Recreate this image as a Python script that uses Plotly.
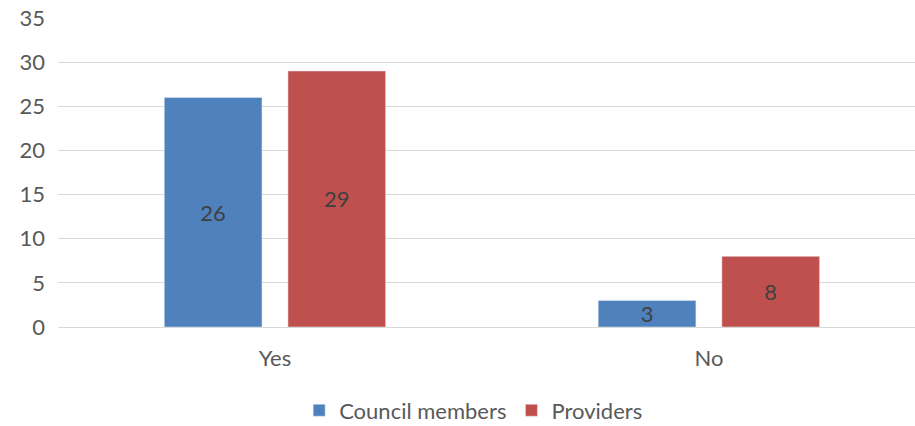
import plotly.graph_objects as go

categories = ["Yes", "No"]
council_members = [26, 3]
providers = [29, 8]
series_names = ["Council members", "Providers"]

font_family = "Lato, 'Open Sans', sans-serif"
fs = 22

fig = go.Figure()
fig.add_trace(go.Bar(
    x=categories, y=council_members, name=series_names[0],
    marker=dict(color="#4F81BD"),
    text=council_members, textposition="inside", insidetextanchor="middle",
    textangle=0, constraintext="none",
    textfont=dict(color="#404040", size=fs, family=font_family),
))
fig.add_trace(go.Bar(
    x=categories, y=providers, name=series_names[1],
    marker=dict(color="#C0504D"),
    text=providers, textposition="inside", insidetextanchor="middle",
    textangle=0, constraintext="none",
    textfont=dict(color="#404040", size=fs, family=font_family),
))

fig.update_layout(
    width=915, height=426,
    margin=dict(l=58, r=0, t=18, b=99, autoexpand=False),
    paper_bgcolor="white", plot_bgcolor="white",
    barmode="group", bargap=0.43, bargroupgap=0.21,
    font=dict(family=font_family, color="#595959", size=fs),
    uniformtext=dict(mode="show", minsize=10),
    legend=dict(orientation="h", x=0.485, xanchor="center", y=-0.27, yanchor="middle",
                font=dict(size=fs, color="#595959"), itemwidth=30, traceorder="normal"),
    showlegend=True,
)
fig.update_yaxes(range=[0, 35], dtick=5, showgrid=True, gridcolor="#D9D9D9", gridwidth=1,
                 zeroline=False, showline=False, ticks="", ticklabelstandoff=12,
                 automargin=False,
                 tickfont=dict(size=fs, color="#595959"))
fig.update_xaxes(range=[-0.5, 1.475], showline=True, linecolor="#D9D9D9", linewidth=1, ticks="",
                 ticklabelstandoff=12, automargin=False,
                 tickfont=dict(size=fs, color="#595959"))

fig.write_html("out.html", config={"displayModeBar": False},
               post_script="document.body.style.margin='0';document.body.style.overflow='hidden';")
